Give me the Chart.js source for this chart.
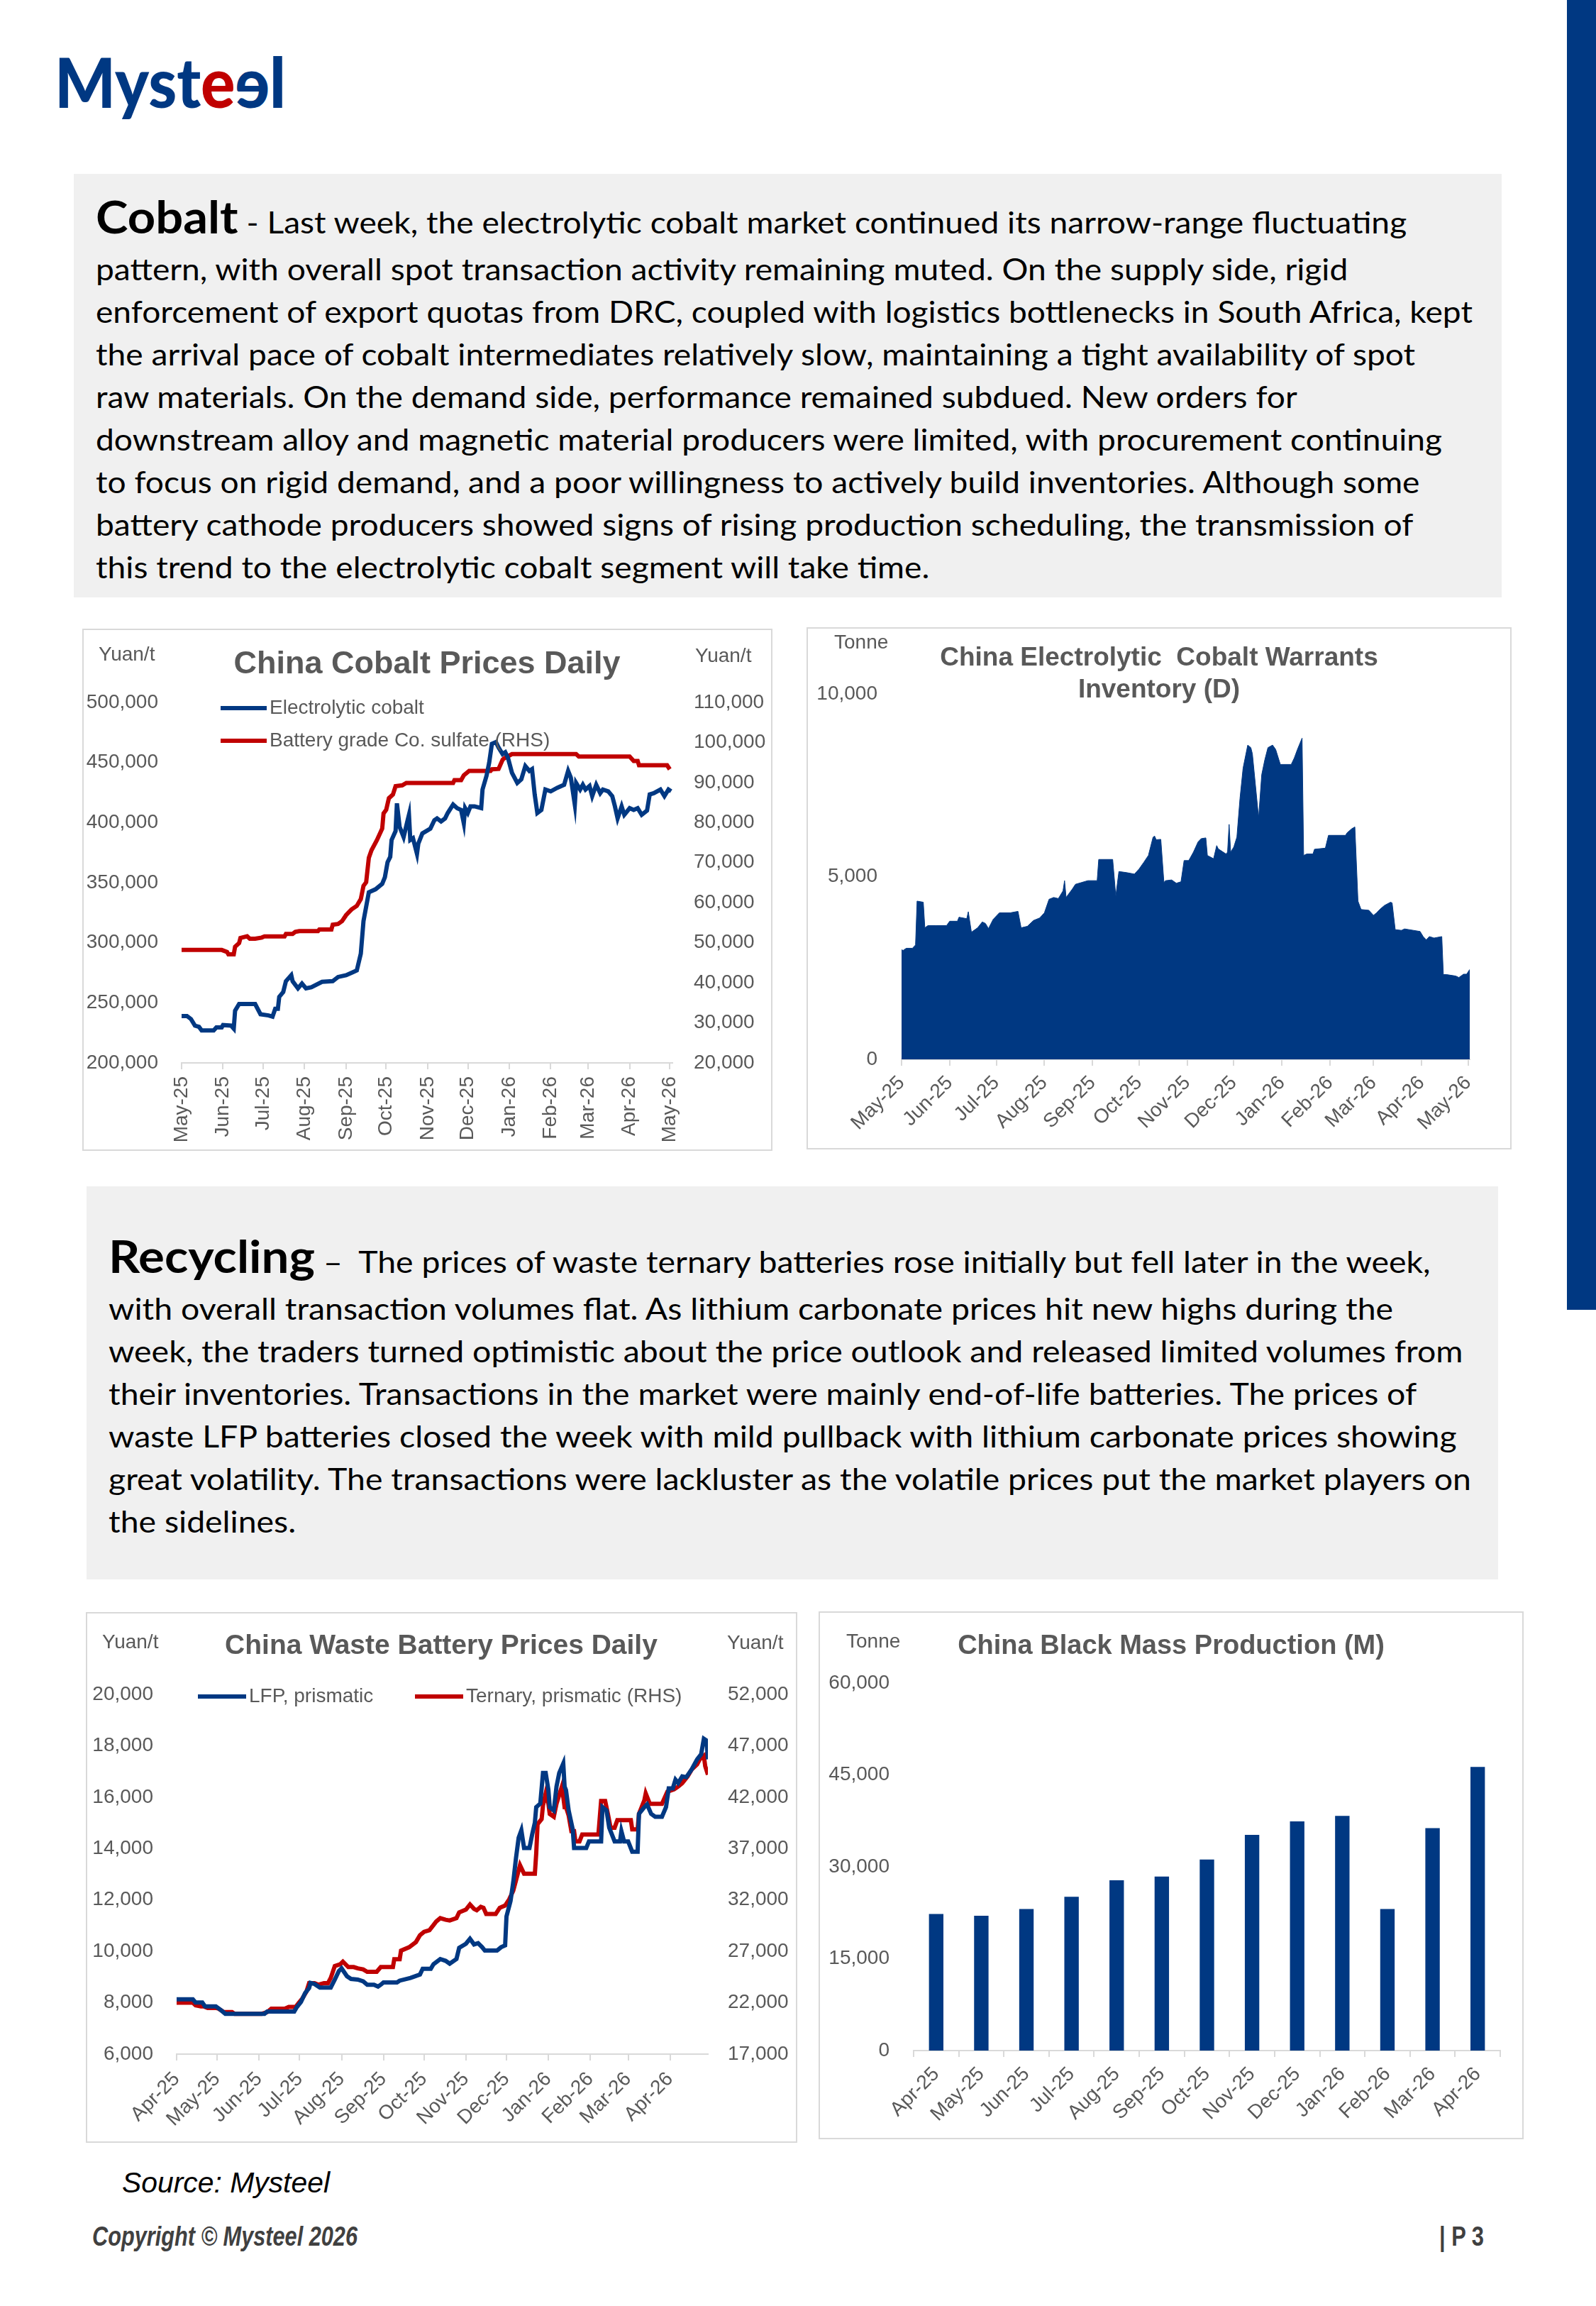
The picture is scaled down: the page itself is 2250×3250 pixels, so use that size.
<!DOCTYPE html>
<html>
<head>
<meta charset="utf-8">
<title>Mysteel - Cobalt and Recycling</title>
<script src="https://cdn.jsdelivr.net/npm/chart.js@4.4.1/dist/chart.umd.min.js"></script>
<style>
html,body{margin:0;padding:0;background:#fff;}
body{width:2250px;height:3250px;position:relative;overflow:hidden;font-family:'Liberation Sans',Arial,sans-serif;}
.abs{position:absolute;white-space:nowrap;transform-origin:0 0;}
.sidebar{position:absolute;left:2209px;top:0;width:41px;height:1846px;background:#003882;}
.note{position:absolute;background:#f0f0f0;}
.line{position:absolute;white-space:nowrap;font-family:Lato,'Open Sans',sans-serif;font-size:43px;line-height:60px;color:#000;transform-origin:0 0;}
.line b{font-size:64px;font-weight:700;}
.box{position:absolute;border:2px solid #d9d9d9;box-sizing:border-box;background:#fff;}
.box canvas{position:absolute;left:-2px;top:-2px;}
</style>
</head>
<body>

<div class="sidebar"></div>

<div class="abs fit" data-w="326" style="left:77px;top:66px;font:900 97px Lato,sans-serif;line-height:97px;color:#003882;">Myst<span style="color:#C00000">e</span><span style="display:inline-block;transform:scaleX(-1)">e</span>l</div>

<div class="note" style="left:104px;top:245px;width:2013px;height:597px;"></div>
<div class="group" data-fit="2" data-w="1941">
<div class="line" style="left:135px;top:275px;"><b>Cobalt</b> - Last week, the electrolytic cobalt market continued its narrow-range fluctuating</div>
<div class="line" style="left:135px;top:349px;">pattern, with overall spot transaction activity remaining muted. On the supply side, rigid</div>
<div class="line" style="left:135px;top:409px;">enforcement of export quotas from DRC, coupled with logistics bottlenecks in South Africa, kept</div>
<div class="line" style="left:135px;top:469px;">the arrival pace of cobalt intermediates relatively slow, maintaining a tight availability of spot</div>
<div class="line" style="left:135px;top:529px;">raw materials. On the demand side, performance remained subdued. New orders for</div>
<div class="line" style="left:135px;top:589px;">downstream alloy and magnetic material producers were limited, with procurement continuing</div>
<div class="line" style="left:135px;top:649px;">to focus on rigid demand, and a poor willingness to actively build inventories. Although some</div>
<div class="line" style="left:135px;top:709px;">battery cathode producers showed signs of rising production scheduling, the transmission of</div>
<div class="line" style="left:135px;top:769px;">this trend to the electrolytic cobalt segment will take time.</div>
</div>

<div class="box" style="left:116px;top:886px;width:973px;height:736px;"><canvas id="cobaltPrices" width="973" height="736"></canvas></div>
<div class="box" style="left:1137px;top:884px;width:994px;height:736px;"><canvas id="cobaltWarrants" width="994" height="736"></canvas></div>

<div class="note" style="left:122px;top:1672px;width:1990px;height:554px;"></div>
<div class="group" data-fit="5" data-w="1921">
<div class="line" style="left:153px;top:1740px;"><b>Recycling</b> –&nbsp; The prices of waste ternary batteries rose initially but fell later in the week,</div>
<div class="line" style="left:153px;top:1814px;">with overall transaction volumes flat. As lithium carbonate prices hit new highs during the</div>
<div class="line" style="left:153px;top:1874px;">week, the traders turned optimistic about the price outlook and released limited volumes from</div>
<div class="line" style="left:153px;top:1934px;">their inventories. Transactions in the market were mainly end-of-life batteries. The prices of</div>
<div class="line" style="left:153px;top:1994px;">waste LFP batteries closed the week with mild pullback with lithium carbonate prices showing</div>
<div class="line" style="left:153px;top:2054px;">great volatility. The transactions were lackluster as the volatile prices put the market players on</div>
<div class="line" style="left:153px;top:2114px;">the sidelines.</div>
</div>

<div class="box" style="left:121px;top:2272px;width:1003px;height:748px;"><canvas id="wastePrices" width="1003" height="748"></canvas></div>
<div class="box" style="left:1154px;top:2271px;width:994px;height:744px;"><canvas id="blackMass" width="994" height="744"></canvas></div>

<div class="abs fit" data-w="293" style="left:172px;top:3056px;font:italic 40px 'Liberation Sans',Arial,sans-serif;line-height:40px;color:#000;">Source: Mysteel</div>
<div class="abs fit" data-w="374" style="left:130px;top:3133px;font:italic bold 38px 'Liberation Sans',Arial,sans-serif;line-height:38px;color:#404040;">Copyright © Mysteel 2026</div>
<div class="abs fit" data-w="63" style="left:2029px;top:3133px;font:bold 38px 'Liberation Sans',Arial,sans-serif;line-height:38px;color:#404040;">| P 3</div>

<script>
// ---- data ----

// China Cobalt Prices Daily (days counted from 1 May 2025)
const cobaltMonths = ['May-25','Jun-25','Jul-25','Aug-25','Sep-25','Oct-25','Nov-25','Dec-25','Jan-26','Feb-26','Mar-26','Apr-26','May-26'];

const electrolyticDays = [0,4,7,10,13,15,24,26,30,31,37,39,40,43,55,59,65,68,70,72,73,76,78,82,83,87,90,93,97,105,113,117,123,128,131,134,136,140,145,150,152,154,156,157,160,161,163,166,169,170,171,173,176,177,180,186,189,191,194,197,199,203,206,209,211,212,214,216,219,224,225,228,230,232,235,237,240,242,244,247,251,254,257,260,262,264,266,269,272,276,281,286,289,291,294,295,298,300,302,305,307,310,313,315,319,322,324,326,329,331,335,338,341,344,348,350,353,358,361,364,366];
const electrolyticPrice = [239000,239000,236500,231000,230000,227000,227000,229500,229500,231500,231000,228500,243500,249000,249000,240500,239500,238500,245000,245000,255000,259000,268000,273000,268000,262000,266000,262000,263000,267500,268000,271500,273000,275500,277000,291000,318000,342000,344500,349000,354500,367000,371500,385500,393000,416000,396500,388000,402000,406500,385500,387000,374000,382500,391000,395000,402000,403500,401000,403500,408000,415000,412000,410500,399500,412000,408000,413500,413500,412000,427500,439000,450000,465500,467000,462500,457000,458500,454000,441500,433000,436000,447000,443000,444500,423500,408000,410500,427500,426000,429000,431500,443000,437500,415000,433000,427500,431500,427500,430500,422000,431500,424500,427500,426000,422000,413500,403500,413500,406500,412000,410500,412000,406500,410000,423500,424500,427500,422000,427500,426000];

const sulfateDays = [0,30,34,35,39,40,43,44,49,51,55,60,62,77,78,83,85,88,102,103,112,113,117,120,123,127,131,134,136,138,140,142,146,150,151,153,155,158,160,165,168,203,204,209,211,215,231,232,237,240,241,247,295,297,335,338,341,342,363,365];
const sulfatePrice = [48200,48200,47700,47100,47100,49000,49900,51200,51600,51000,51000,51300,51600,51600,52200,52200,52700,52900,52900,53300,53300,54500,54700,55400,56900,58300,59200,60900,64200,65100,71200,73100,75600,78500,82300,83200,86100,87000,89100,89300,89900,89900,90600,90600,91800,92900,92900,93300,93400,95700,96000,97100,97100,96500,96500,95400,95400,94300,94300,93300];

// China Electrolytic Cobalt Warrants Inventory (days from 1 May 2025)
const warrantDays = [0,1,3,7,9,10,14,15,17,22,29,31,36,37,42,43,45,49,52,54,56,59,63,70,75,77,81,85,89,92,95,98,101,104,105,106,110,112,116,120,126,127,136,138,140,145,150,153,156,159,162,163,164,167,169,170,174,177,180,182,185,188,191,193,196,197,201,203,204,209,210,211,212,214,216,218,220,223,225,226,230,232,234,236,239,241,244,251,253,255,258,259,261,265,266,273,275,286,287,290,292,294,296,301,304,306,308,311,315,316,318,322,324,334,336,338,340,343,348,349,351,357,359,362,364,366];
const warrantStock = [3000,2980,3040,3040,3130,4330,4300,3600,3660,3660,3660,3780,3780,3890,3850,4040,3480,3600,3760,3720,3580,3830,4010,4010,4050,3600,3640,3800,3870,4010,4380,4430,4400,4610,4890,4430,4660,4790,4840,4890,4890,5470,5470,4470,5140,5110,5070,5210,5390,5580,6080,6110,6010,6020,4840,4890,4910,4820,4860,5440,5440,5670,5950,6040,6060,5580,5490,5850,5760,5620,5670,6430,5670,5810,6080,7140,7970,8600,8530,8360,6610,7790,8200,8530,8600,8480,8070,8070,8250,8480,8790,5580,5620,5620,5750,5780,6130,6130,6200,6310,6360,4330,4100,4080,3940,4010,4100,4210,4300,4280,3550,3530,3570,3500,3360,3270,3360,3320,3360,2320,2320,2280,2240,2330,2330,2460];

// China Waste Battery Prices Daily (days from 1 Apr 2025)
const wasteMonths = ['Apr-25','May-25','Jun-25','Jul-25','Aug-25','Sep-25','Oct-25','Nov-25','Dec-25','Jan-26','Feb-26','Mar-26','Apr-26'];

const lfpDays = [0,12,14,19,21,29,33,36,43,65,67,87,89,92,95,98,99,102,106,114,117,120,122,126,129,134,138,141,146,149,151,153,163,165,173,180,182,188,190,195,199,202,207,209,214,217,220,223,226,228,237,240,243,244,247,249,251,253,255,257,261,263,265,266,269,271,273,275,276,279,281,283,286,287,288,290,293,294,303,305,314,315,318,320,324,328,329,331,334,337,341,342,346,348,351,354,359,362,364,367,369,371,374,377,381,385,388,390,392,393];
const lfpPrice = [8130,8130,8010,8010,7860,7860,7700,7570,7570,7570,7660,7660,7835,8030,8370,8570,8770,8730,8590,8590,8900,9230,9340,9030,8925,8900,8830,8700,8700,8630,8700,8790,8790,8860,8965,9100,9320,9320,9500,9700,9630,9520,9700,10135,10295,10490,10270,10320,10160,10030,10030,10160,10230,11360,11960,12690,13620,14420,14710,14020,14020,14550,15010,15610,15750,16940,16940,16280,15610,15480,16410,16940,17310,16410,16280,15480,14750,14020,14020,14280,14280,15610,15480,14810,14280,14280,14680,14280,14280,13880,13880,15350,15610,15720,15350,15240,15240,15610,16340,16340,16680,16550,16810,16780,17080,17470,17670,18270,18200,17470];

const ternaryDays = [0,12,14,18,20,23,29,31,35,41,43,63,67,70,80,83,88,90,93,96,98,102,105,109,112,114,117,121,123,127,131,134,138,141,148,151,160,161,165,166,172,177,180,183,187,190,192,195,199,202,207,209,214,217,220,222,225,227,229,236,239,243,246,249,252,254,257,265,266,267,270,271,273,275,276,279,281,285,287,288,290,292,294,295,298,300,312,314,317,319,321,324,326,336,337,341,342,346,347,350,354,359,363,368,371,374,378,381,385,387,390,391,393];
const ternaryPrice = [22000,22000,21750,21650,21650,21490,21490,21420,21090,21090,20920,20920,21090,21420,21420,21590,21590,21920,22420,23080,23910,23910,23750,23910,23910,24410,25570,25740,26000,25470,25470,25340,25240,25010,25010,25470,25470,26240,26240,27070,27400,27900,28570,28900,29060,29560,29900,30230,30070,30000,30230,30790,31060,31560,31130,31000,31330,31230,30630,30630,31230,31460,32060,32890,34380,35380,34550,34550,36540,39370,39870,41200,42360,41360,40370,40100,41360,43030,41030,41030,40200,38700,38700,37700,37700,38370,38370,41630,41630,40370,39030,39030,39770,39770,38870,38870,40370,41700,42360,41360,41360,41360,42530,42760,43030,43360,44020,44690,45190,45690,46020,45020,44190];

// China Black Mass Production (monthly, tonne)
const blackMassMonths = ['Apr-25','May-25','Jun-25','Jul-25','Aug-25','Sep-25','Oct-25','Nov-25','Dec-25','Jan-26','Feb-26','Mar-26','Apr-26'];
const blackMassOutput = [22300,22000,23100,25100,27800,28400,31200,35200,37400,38300,23100,36300,46300];

// ---- styling ----

const BLUE = '#003882';
const RED = '#C00000';
const TEXT_GREY = '#595959';
const AXIS_GREY = '#d9d9d9';
const FONT = "'Liberation Sans', Arial, sans-serif";

Chart.defaults.font.family = FONT;
Chart.defaults.font.size = 28;
Chart.defaults.color = TEXT_GREY;

const MONTH_NAMES = ['Jan','Feb','Mar','Apr','May','Jun','Jul','Aug','Sep','Oct','Nov','Dec'];

function monthStart(label){
  const parts = label.split('-');
  return Date.UTC(2000 + Number(parts[1]), MONTH_NAMES.indexOf(parts[0]), 1);
}

function points(days, values){
  return days.map((d, i) => ({ x: d, y: values[i] }));
}

// titles, unit labels and legends drawn on top of each chart
function decorations(spec){
  return {
    id: 'decor',
    afterDraw(chart){
      const ctx = chart.ctx;
      ctx.save();
      ctx.textBaseline = 'middle';
      ctx.fillStyle = TEXT_GREY;
      spec.texts.forEach(t => {
        ctx.font = t.font;
        ctx.textAlign = t.align || 'left';
        ctx.fillText(t.text, t.x, t.y);
      });
      (spec.legend || []).forEach((pos, i) => {
        const ds = chart.data.datasets[i];
        ctx.strokeStyle = ds.borderColor;
        ctx.lineWidth = 6;
        ctx.beginPath();
        ctx.moveTo(pos.x, pos.y);
        ctx.lineTo(pos.x + pos.len, pos.y);
        ctx.stroke();
        ctx.font = '28px ' + FONT;
        ctx.textAlign = 'left';
        ctx.fillText(ds.label, pos.x + pos.len + 4, pos.y);
      });
      ctx.restore();
    }
  };
}

function monthAxis(labels, max, rotation, height, padding){
  const ticks = labels.map(l => Math.round((monthStart(l) - monthStart(labels[0])) / 86400000));
  return {
    type: 'linear',
    min: 0,
    max: max,
    afterBuildTicks: axis => { axis.ticks = ticks.map(v => ({ value: v })); },
    afterFit: axis => { axis.height = height; },
    ticks: {
      autoSkip: false,
      minRotation: rotation,
      maxRotation: rotation,
      padding: padding,
      callback: v => labels[ticks.indexOf(v)]
    },
    grid: { drawOnChartArea: false, tickLength: 9, color: AXIS_GREY, lineWidth: 2 },
    border: { color: AXIS_GREY, width: 2 }
  };
}

function valueAxis(position, min, max, step, width, padding){
  return {
    position: position,
    min: min,
    max: max,
    afterFit: axis => { axis.width = width; },
    ticks: { stepSize: step, padding: padding, callback: v => v.toLocaleString('en-US') },
    grid: { display: false, drawTicks: false },
    border: { display: false }
  };
}

function baseOptions(padding){
  return {
    responsive: false,
    animation: false,
    devicePixelRatio: 1,
    events: [],
    layout: { padding: padding },
    elements: { point: { radius: 0 }, line: { borderWidth: 6, tension: 0 } },
    plugins: { legend: { display: false }, tooltip: { enabled: false } }
  };
}

// Cobalt prices

const cobaltOptions = baseOptions({ top: 104 });
cobaltOptions.scales = {
  x: monthAxis(cobaltMonths, 367, 90, 124, 10),
  y: valueAxis('left', 200000, 500000, 50000, 140, 33),
  y1: valueAxis('right', 20000, 110000, 10000, 141, 30)
};

new Chart(document.getElementById('cobaltPrices'), {
  type: 'line',
  data: {
    datasets: [
      { label: 'Electrolytic cobalt', data: points(electrolyticDays, electrolyticPrice), borderColor: BLUE, borderWidth: 6, yAxisID: 'y' },
      { label: 'Battery grade Co. sulfate (RHS)', data: points(sulfateDays, sulfatePrice), borderColor: RED, borderWidth: 6, yAxisID: 'y1' }
    ]
  },
  options: cobaltOptions,
  plugins: [decorations({
    texts: [
      { text: 'Yuan/t', x: 23, y: 37, font: '28px ' + FONT },
      { text: 'Yuan/t', x: 864, y: 39, font: '28px ' + FONT },
      { text: 'China Cobalt Prices Daily', x: 486, y: 51, font: 'bold 45px ' + FONT, align: 'center' }
    ],
    legend: [{ x: 195, y: 112, len: 65 }, { x: 195, y: 158, len: 65 }]
  })]
});

// Warrants inventory

const warrantOptions = baseOptions({ top: 94, right: 59 });
warrantOptions.scales = {
  x: monthAxis(cobaltMonths, 366, 45, 127, 8),
  y: valueAxis('left', 0, 10000, 5000, 134, 34)
};

new Chart(document.getElementById('cobaltWarrants'), {
  type: 'line',
  data: {
    datasets: [
      { label: 'Warrants', data: points(warrantDays, warrantStock), borderColor: BLUE, backgroundColor: BLUE, borderWidth: 1, fill: 'origin' }
    ]
  },
  options: warrantOptions,
  plugins: [decorations({
    texts: [
      { text: 'Tonne', x: 39, y: 22, font: '28px ' + FONT },
      { text: 'China Electrolytic  Cobalt Warrants', x: 497, y: 44, font: 'bold 37px ' + FONT, align: 'center' },
      { text: 'Inventory (D)', x: 497, y: 89, font: 'bold 37px ' + FONT, align: 'center' }
    ]
  })]
});

// Waste battery prices

const wasteOptions = baseOptions({ top: 116 });
wasteOptions.scales = {
  x: monthAxis(wasteMonths, 393, 45, 125, 10),
  y: valueAxis('left', 6000, 20000, 2000, 128, 33),
  y1: valueAxis('right', 17000, 52000, 5000, 126, 28)
};

new Chart(document.getElementById('wastePrices'), {
  type: 'line',
  data: {
    datasets: [
      { label: 'LFP, prismatic', data: points(lfpDays, lfpPrice), borderColor: BLUE, borderWidth: 6, yAxisID: 'y' },
      { label: 'Ternary, prismatic (RHS)', data: points(ternaryDays, ternaryPrice), borderColor: RED, borderWidth: 6, yAxisID: 'y1' }
    ]
  },
  options: wasteOptions,
  plugins: [decorations({
    texts: [
      { text: 'Yuan/t', x: 23, y: 43, font: '28px ' + FONT },
      { text: 'Yuan/t', x: 904, y: 44, font: '28px ' + FONT },
      { text: 'China Waste Battery Prices Daily', x: 501, y: 48, font: 'bold 39px ' + FONT, align: 'center' }
    ],
    legend: [{ x: 158, y: 119, len: 68 }, { x: 464, y: 119, len: 68 }]
  })]
});

// Black mass production

const massOptions = baseOptions({ top: 101, right: 33 });
massOptions.scales = {
  x: {
    afterFit: axis => { axis.height = 125; },
    ticks: { autoSkip: false, minRotation: 45, maxRotation: 45, padding: 8 },
    grid: { drawOnChartArea: false, offset: true, tickLength: 9, color: AXIS_GREY, lineWidth: 2 },
    border: { color: AXIS_GREY, width: 2 }
  },
  y: valueAxis('left', 0, 60000, 15000, 134, 34)
};

new Chart(document.getElementById('blackMass'), {
  type: 'bar',
  data: {
    labels: blackMassMonths,
    datasets: [
      { label: 'Black mass', data: blackMassOutput, backgroundColor: BLUE, barPercentage: 0.32, categoryPercentage: 1 }
    ]
  },
  options: massOptions,
  plugins: [decorations({
    texts: [
      { text: 'Tonne', x: 39, y: 43, font: '28px ' + FONT },
      { text: 'China Black Mass Production (M)', x: 497, y: 50, font: 'bold 38px ' + FONT, align: 'center' }
    ]
  })]
});

// squeeze text to the widths of the original page

document.querySelectorAll('.fit').forEach(el => {
  const w = el.getBoundingClientRect().width;
  el.style.transform = 'scaleX(' + (Number(el.dataset.w) / w) + ')';
});

document.querySelectorAll('.group').forEach(g => {
  const lines = g.querySelectorAll('.line');
  const ref = lines[Number(g.dataset.fit)];
  const k = Number(g.dataset.w) / ref.getBoundingClientRect().width;
  lines.forEach(l => { l.style.transform = 'scaleX(' + k + ')'; });
});
</script>
</body>
</html>
